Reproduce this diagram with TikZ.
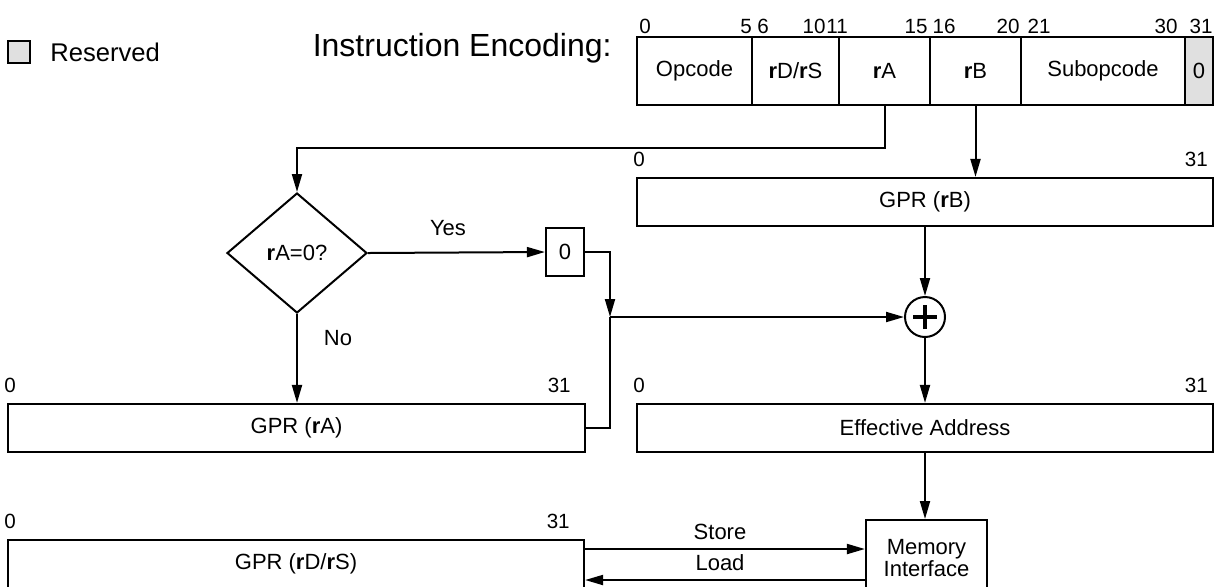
\documentclass[tikz,border=0pt]{standalone}
\usepackage{fontspec}
\setmainfont{Liberation Sans}
\usetikzlibrary{arrows.meta,positioning,calc,shapes.geometric}
\definecolor{resgray}{HTML}{E0E0E0}
\tikzset{
  ln/.style={line width=1pt, draw=black},
  ar/.style={ln, -{Triangle[length=9pt,width=5pt]}},
  txt/.style={font=\fontsize{11}{11}\selectfont},
  reg/.style={draw, line width=1.1pt, minimum width=288pt, minimum height=24pt, inner sep=0pt, txt},
  cell/.style={draw, line width=1.1pt, minimum height=34pt, inner sep=0pt, txt},
  bitlbl/.style={font=\fontsize{10.3}{12}\selectfont, inner sep=0pt},
  lbl/.style={txt, inner sep=0pt},
}
\begin{document}
\begin{tikzpicture}[x=0.5pt,y=-0.5pt]
  \useasboundingbox (0,0) rectangle (1225,586);
  % legend and title
  \node[draw, line width=1pt, fill=resgray, minimum size=11pt, inner sep=0pt] (resbox) at (19,52) {};
  \node[font=\fontsize{12.8}{14}\selectfont, anchor=west, inner sep=0pt] (restxt) at (50,52) {Reserved};
  \node[font=\fontsize{16}{18}\selectfont, anchor=east, inner sep=0pt] (title) at (612,48) {Instruction Encoding:};
  % instruction fields
  \foreach \l/\r/\nm/\t in {637/752/cOp/Opcode, 752/839/cDS/{\textbf{r}D/\textbf{r}S}, 839/930/cA/{\textbf{r}A}, 930/1021/cB/{\textbf{r}B}, 1021/1185/cSub/Subopcode}{
    \pgfmathsetmacro{\w}{(\r-\l)/2}
    \node[cell, minimum width=\w pt] (\nm) at ({(\l+\r)/2},71) {\t};
  }
  \node[cell, fill=resgray, minimum width=14pt] (cRc) at (1199,71) {0};
  \foreach \x/\b in {645/0, 746/5, 763/6, 916/15, 944/16, 1008/20, 1039/21, 1166/30, 1201/31}{
    \node[bitlbl, anchor=base] at (\x,33) {\b};
  }
  \node[bitlbl, anchor=base east] at (826,33) {10};
  \node[bitlbl, anchor=base west] at (826,33) {11};
  % registers
  \node[reg] (gprB) at (925,202) {GPR (\textbf{r}B)};
  \node[reg] (ea) at (925,428) {Effective Address};
  \node[reg, minimum width=288.5pt] (gprA) at (296.5,428) {GPR (\textbf{r}A)};
  \node[reg] (gprD) at (296,564) {GPR (\textbf{r}D/\textbf{r}S)};
  \foreach \n/\o in {gprA/15, gprD/15, gprB/6, ea/6}{
    \node[bitlbl, anchor=base west] at ($(\n.north west)+(-3,-10)$) {0};
    \node[bitlbl, anchor=base east] at ($(\n.north east)+(-\o,-10)$) {31};
  }
  % decision, zero, adder, memory
  \node[draw, diamond, line width=1pt, aspect=1.167, minimum width=70pt, minimum height=60pt, inner sep=0pt, txt] (dec) at (297,253) {\textbf{r}A=0?};
  \node[draw, line width=1.1pt, minimum width=19pt, minimum height=24pt, inner sep=0pt, txt] (zero) at (565,252) {0};
  \node[circle, draw, line width=1pt, minimum size=20pt, inner sep=0pt,
    path picture={
      \draw[line width=2.2pt] ([xshift=-6pt]path picture bounding box.center) -- ([xshift=6pt]path picture bounding box.center);
      \draw[line width=2.2pt] ([yshift=-6pt]path picture bounding box.center) -- ([yshift=6pt]path picture bounding box.center);
    }] (plus) at (925,317) {};
  \node[draw, line width=1.1pt, minimum width=60.5pt, minimum height=38pt, inner sep=0pt, align=center, txt, anchor=north] (mem) at (926.5,519) {Memory\\Interface};
  \coordinate (jn) at (610,317);
  \coordinate (ys) at (0,549);
  \coordinate (yl) at (0,580);
  % connectors
  \draw[ar] (cA.south) -- ++(0,42) -| (dec.north);
  \draw[ar] (cB.south) -- (cB.south |- gprB.north);
  \draw[ar] (dec.east) -- (zero.west);
  \draw[ar] (dec.south) -- (dec.south |- gprA.north);
  \draw[ar] (zero.east) -| (jn);
  \draw[ln] (gprA.east) -| (jn);
  \draw[ar] (jn) -- (plus.west);
  \draw[ar] (gprB.south) -- (plus.north);
  \draw[ar] (plus.south) -- (ea.north);
  \draw[ar] (ea.south) -- (ea.south |- mem.north);
  \draw[ar] (gprD.east |- ys) -- (mem.west |- ys);
  \draw[ar] (mem.west |- yl) -- (gprD.east |- yl);
  \node[lbl] (yes) at (448,228) {Yes};
  \node[lbl] (no) at (338,338) {No};
  \node[lbl] (st) at (720,532) {Store};
  \node[lbl] (ld) at (720,563) {Load};
\end{tikzpicture}
\end{document}
